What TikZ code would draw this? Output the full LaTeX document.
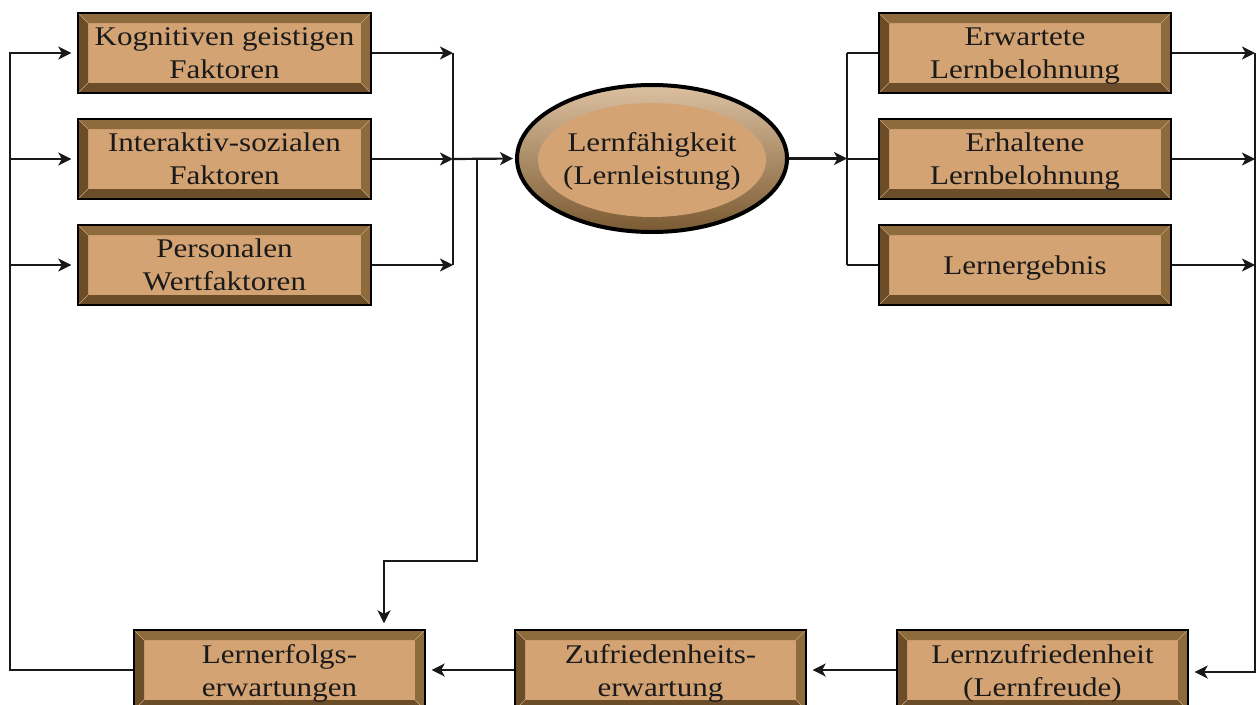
\documentclass[tikz,border=0pt]{standalone}
\usepackage{fontspec}
\setmainfont[FakeStretch=1.15]{Liberation Serif}
\usetikzlibrary{shapes.geometric,arrows.meta}

\definecolor{boxfill}{HTML}{D4A373}
\definecolor{bevlight}{HTML}{8E6B3D}
\definecolor{bevdark}{HTML}{6B4E29}
\definecolor{bevedge}{HTML}{C9A677}
\definecolor{ringtop}{HTML}{DCC0A0}
\definecolor{ringbot}{HTML}{7A5A32}
\definecolor{inktext}{HTML}{1A1A1A}

\newcommand{\boxfont}{\fontsize{27}{33}\selectfont}
\newlength{\bw}
\setlength{\bw}{10pt}

\tikzset{
  bevelbox/.style={rectangle, draw=black, line width=1.3pt, fill=boxfill,
    minimum width=#1, minimum height=80pt, inner sep=0pt, align=center,
    font=\boxfont, text=inktext, text depth=-5pt,
    path picture={
      \path (path picture bounding box.north west) coordinate (@nw)
            (path picture bounding box.north east) coordinate (@ne)
            (path picture bounding box.south west) coordinate (@sw)
            (path picture bounding box.south east) coordinate (@se);
      % four bevel bands of the frame
      \fill[bevlight] (@nw) -- (@ne) -- ([shift={(-\bw,-\bw)}]@ne) -- ([shift={(\bw,-\bw)}]@nw) -- cycle;
      \fill[bevlight] (@ne) -- (@se) -- ([shift={(-\bw,\bw)}]@se) -- ([shift={(-\bw,-\bw)}]@ne) -- cycle;
      \fill[bevdark] (@nw) -- (@sw) -- ([shift={(\bw,\bw)}]@sw) -- ([shift={(\bw,-\bw)}]@nw) -- cycle;
      \fill[bevdark] (@sw) -- (@se) -- ([shift={(-\bw,\bw)}]@se) -- ([shift={(\bw,\bw)}]@sw) -- cycle;
      % light mitre lines at the corners
      \draw[bevedge, line width=0.6pt]
        (@nw) -- ([shift={(\bw,-\bw)}]@nw)
        (@ne) -- ([shift={(-\bw,-\bw)}]@ne)
        (@sw) -- ([shift={(\bw,\bw)}]@sw)
        (@se) -- ([shift={(-\bw,\bw)}]@se);
    }},
  ringnode/.style={ellipse, draw=black, line width=4pt,
    top color=ringtop, bottom color=ringbot,
    minimum width=270pt, minimum height=147pt, inner sep=0pt,
    align=center, font=\boxfont, text=inktext, text depth=-5pt,
    path picture={
      \fill[boxfill] ([yshift=-1.5pt]path picture bounding box.center) ellipse (114pt and 57pt);
    }},
  conn/.style={draw=black!90, line width=2.2pt},
  arr/.style={conn, -{Stealth[length=13pt, width=13pt, inset=3.5pt]}},
  arrgap/.style={arr, shorten >=6pt},
}

\begin{document}
\begin{tikzpicture}[x=1pt, y=-1pt]
  \useasboundingbox (0,0) rectangle (1258,704);

  % influencing factors
  \node[bevelbox=293pt] (k1) at (224.5,53)  {Kognitiven geistigen\\Faktoren};
  \node[bevelbox=293pt] (k2) at (224.5,159) {Interaktiv-sozialen\\Faktoren};
  \node[bevelbox=293pt] (k3) at (224.5,265) {Personalen\\Wertfaktoren};

  % central ability
  \node[ringnode] (lf) at (652,158.5) {Lernfähigkeit\\(Lernleistung)};

  % outcomes
  \node[bevelbox=292pt] (r1) at (1025,53)  {Erwartete\\Lernbelohnung};
  \node[bevelbox=292pt] (r2) at (1025,159) {Erhaltene\\Lernbelohnung};
  \node[bevelbox=292pt] (r3) at (1025,265) {Lernergebnis};

  % feedback row
  \node[bevelbox=291pt] (e1) at (279.5,670)  {Lernerfolgs-\\erwartungen};
  \node[bevelbox=291pt] (e2) at (660.5,670)  {Zufriedenheits-\\erwartung};
  \node[bevelbox=291pt] (e3) at (1042.5,670) {Lernzufriedenheit\\(Lernfreude)};

  % bus lines
  \coordinate (lbus) at (10,0);
  \coordinate (mbus) at (453,0);
  \coordinate (dbus) at (477,0);
  \coordinate (rbus) at (847,0);
  \coordinate (obus) at (1255,0);
  \coordinate (kink) at (384,561);

  % left feedback loop into the factors
  \draw[arrgap] (e1.west) -| (lbus |- k1.west) -- (k1.west);
  \draw[arrgap] (lbus |- k2.west) -- (k2.west);
  \draw[arrgap] (lbus |- k3.west) -- (k3.west);

  % factors into the ability
  \draw[arr] (k1.east) -- (mbus |- k1.east);
  \draw[arr] (k2.east) -- (mbus |- k2.east);
  \draw[arr] (k3.east) -- (mbus |- k3.east);
  \draw[conn] (mbus |- k1.east) -- (mbus |- k3.east);
  \draw[arr, shorten >=2pt] (mbus |- k2.east) -- (lf.west);

  % branch down to the success expectations
  \draw[arrgap] (dbus |- k2.east) |- (kink) -- (kink |- e1.north);

  % ability into the outcomes
  \draw[arr] (lf.east) -- (rbus |- lf.east);
  \draw[conn] (rbus |- r1.west) -- (rbus |- r3.west);
  \draw[conn] (rbus |- r1.west) -- (r1.west);
  \draw[conn] (rbus |- r2.west) -- (r2.west);
  \draw[conn] (rbus |- r3.west) -- (r3.west);

  % outcomes to the right loop
  \draw[arr] (r1.east) -- (obus |- r1.east);
  \draw[arr] (r2.east) -- (obus |- r2.east);
  \draw[arr] (r3.east) -- (obus |- r3.east);
  \draw[arrgap] (obus |- r1.east) |- ([yshift=-2pt]e3.east);

  % bottom chain
  \draw[arrgap] (e3.west) -- (e2.east);
  \draw[arrgap] (e2.west) -- (e1.east);
\end{tikzpicture}
\end{document}
